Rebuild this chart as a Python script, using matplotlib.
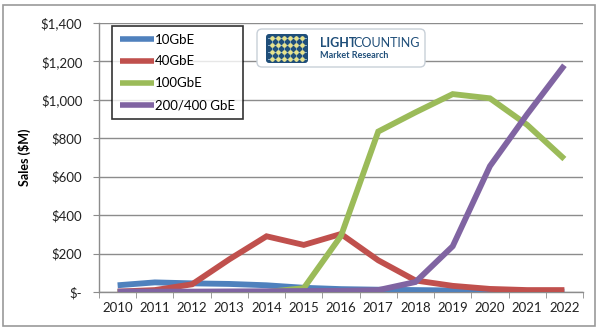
import numpy as np
import matplotlib
matplotlib.use("Agg")
import matplotlib.pyplot as plt
from matplotlib.patches import Rectangle, FancyBboxPatch
from matplotlib.ticker import FixedLocator, FuncFormatter

plt.rcParams['font.family'] = ['Lato', 'DejaVu Sans']

# sales by year, $M
years = ['2010', '2011', '2012', '2013', '2014', '2015', '2016',
         '2017', '2018', '2019', '2020', '2021', '2022']
sales_10g = [35, 50, 45, 42, 35, 22, 15, 12, 10, 8, 5, 3, 2]
sales_40g = [2, 10, 40, 170, 290, 245, 302, 165, 60, 32, 16, 10, 10]
sales_100g = [0, 0, 0, 0, 0, 20, 292, 835, 935, 1030, 1008, 870, 692]
sales_400g = [2, 2, 2, 3, 4, 5, 6, 10, 52, 238, 655, 925, 1180]
series_names = ['10GbE', '40GbE', '100GbE', '200/400 GbE']
y_ticks = [0, 200, 400, 600, 800, 1000, 1200, 1400]

colors = ['#4F81BD', '#C0504D', '#9BBB59', '#8064A2']

fig = plt.figure(figsize=(6, 3.3), dpi=100)
fig.patch.set_facecolor('white')
fig.patches.append(Rectangle((3 / 600, 4 / 330), 592 / 600, 321 / 330,
                             transform=fig.transFigure, fill=False,
                             edgecolor='#9a9a9a', linewidth=1.2))

ax = fig.add_axes([99 / 600, 38 / 330, 484 / 600, 269 / 330])
x = np.arange(len(years))
handles = []
for vals, c, name in zip([sales_10g, sales_40g, sales_100g, sales_400g],
                         colors, series_names):
    h, = ax.plot(x, vals, color=c, linewidth=4.2, solid_joinstyle='miter',
                 solid_capstyle='butt', label=name, zorder=3)
    handles.append(h)

ax.set_xlim(-0.5, len(years) - 0.5)
ax.set_ylim(0, 1400)
ax.set_yticks(y_ticks)
ax.yaxis.set_major_formatter(FuncFormatter(
    lambda v, p: '$-' if v == 0 else '${:,.0f}'.format(v)))
ax.set_xticks(x)
ax.set_xticklabels(years)
ax.xaxis.set_minor_locator(FixedLocator(np.arange(-0.5, len(years), 1)))
ax.tick_params(axis='x', which='major', length=0, pad=7, labelsize=9.5,
               labelcolor='#222222')
ax.tick_params(axis='x', which='minor', length=4, color='#8c8c8c')
ax.tick_params(axis='y', length=4, color='#8c8c8c', labelsize=9.5,
               labelcolor='#222222', pad=8)
ax.grid(axis='y', color='#8c8c8c', linewidth=1.0, zorder=0)
for s in ['top', 'right']:
    ax.spines[s].set_visible(False)
for s in ['left', 'bottom']:
    ax.spines[s].set_color('#8c8c8c')
    ax.spines[s].set_linewidth(1.0)
ax.set_ylabel('Sales ($M)', fontsize=9, fontweight='bold', labelpad=7)

leg = ax.legend(handles=handles, loc='upper left',
                bbox_to_anchor=(6 / 484, 273 / 269), frameon=True,
                fancybox=False, fontsize=9.5, handlelength=2.6,
                handletextpad=0.1, labelspacing=0.75, borderpad=0.6)
leg.get_frame().set_edgecolor('black')
leg.get_frame().set_linewidth(1.2)
for ln in leg.get_lines():
    ln.set_linewidth(4)
leg.set_zorder(5)

# company logo, drawn on an overlay in pixel units
logo = fig.add_axes([0, 0, 1, 1], facecolor='none', zorder=10)
logo.set_xlim(0, 600)
logo.set_ylim(0, 330)
logo.axis('off')
logo.add_patch(FancyBboxPatch((257, 263), 168, 38,
                              boxstyle='round,pad=0,rounding_size=5',
                              facecolor='white', edgecolor='#c8d0d8',
                              linewidth=1.0))
logo.add_patch(FancyBboxPatch((266, 267), 42, 29,
                              boxstyle='round,pad=0,rounding_size=3',
                              facecolor='#1f4e79', edgecolor='none'))
for yy in np.linspace(271, 292, 4):
    logo.plot([268, 306], [yy, yy], color='#9fc4e0', linewidth=0.6)
for xx in np.linspace(272, 302, 6):
    logo.plot([xx, xx], [269, 294], color='#9fc4e0', linewidth=0.5)
gx, gy = np.meshgrid(np.linspace(272, 302, 6), np.linspace(271, 292, 4))
logo.scatter(gx.ravel(), gy.ravel(), s=5, c='#e8e28a', zorder=3)
logo.text(320, 283, 'LIGHT', fontsize=9, fontweight='bold',
          color='#1f4e79', va='baseline')
logo.text(353, 283, 'COUNTING', fontsize=9, color='#1f4e79',
          va='baseline')
logo.text(320, 272, 'Market Research', fontsize=6.5,
          fontweight='bold', color='#1f4e79', va='baseline')

fig.savefig('out.png', dpi=100)
